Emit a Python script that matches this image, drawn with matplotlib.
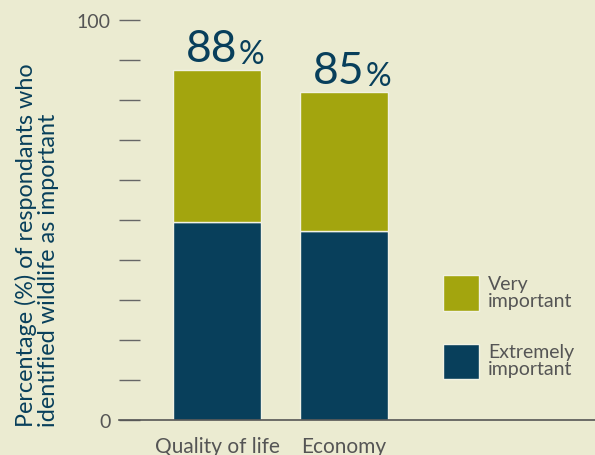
import matplotlib
matplotlib.use("Agg")
import matplotlib.pyplot as plt
from matplotlib.patches import Rectangle

plt.rcParams['font.family'] = ['Lato', 'DejaVu Sans']

# data
categories = ["Quality of life", "Economy"]
extremely = [49.5, 47.2]
very = [38.0, 34.8]
totals_label = ["88", "85"]
legend_labels = ["Very\nimportant", "Extremely\nimportant"]

bg = '#ebebd1'
navy = '#083f5b'
olive = '#a3a50e'
grey = '#555555'
edge = '#f2f2e4'

W, H = 595, 456
fig = plt.figure(figsize=(W / 100, H / 100), dpi=100, facecolor=bg)
ax = fig.add_axes([119 / W, 1 - 421.3 / H, 476 / W, 400.3 / H])
ax.set_facecolor(bg)

x = list(range(len(categories)))
ax.bar(x, extremely, width=0.7, color=navy, edgecolor=edge, linewidth=1)
ax.bar(x, very, width=0.7, bottom=extremely, color=olive, edgecolor=edge, linewidth=1)

# big percentage labels above the bars
for xi, e, v, lab in zip(x, extremely, very, totals_label):
    t = ax.annotate(lab, xy=(xi - 0.045, e + v), xytext=(0, 0.5), textcoords='offset points',
                    ha='center', va='bottom', fontsize=32, color=navy)
    ax.annotate('%', xy=(1, 0), xycoords=t, xytext=(1, 0), textcoords='offset points',
                ha='left', va='bottom', fontsize=23, color=navy)

ax.set_xlim(-0.772, 2.976)
ax.set_ylim(0, 100)
ax.set_yticks(range(0, 101, 10))
ax.set_yticklabels(['0'] + [''] * 9 + ['100'])
ax.tick_params(axis='y', direction='in', length=15, width=1, color='#666666',
               labelsize=14, labelcolor=grey, pad=6)
ax.set_xticks(x)
ax.set_xticklabels(categories)
ax.tick_params(axis='x', length=0, labelsize=15, labelcolor=grey, pad=11)

for s in ['top', 'right', 'left']:
    ax.spines[s].set_visible(False)
ax.spines['bottom'].set_color(grey)
ax.spines['bottom'].set_linewidth(1.2)

ax.set_ylabel("Percentage (%) of respondants who\nidentified wildlife as important",
              fontsize=16.8, color=navy, multialignment='left', linespacing=1.1)
ax.yaxis.set_label_coords(-0.125, 0.44)

# legend drawn by hand (square swatches, two-line labels)
for (top, bottom), col, lab in zip([(276, 312), (345, 380)], [olive, navy], legend_labels):
    fig.add_artist(Rectangle((442.7 / W, 1 - bottom / H), 36 / W, (bottom - top) / H,
                             transform=fig.transFigure, facecolor=col, edgecolor=edge,
                             linewidth=1))
    fig.text(488 / W, 1 - ((top + bottom) / 2 - 1) / H, lab, ha='left', va='center',
             fontsize=14, color=grey, linespacing=1.0)

fig.savefig('out.png', dpi=100, facecolor=bg)
